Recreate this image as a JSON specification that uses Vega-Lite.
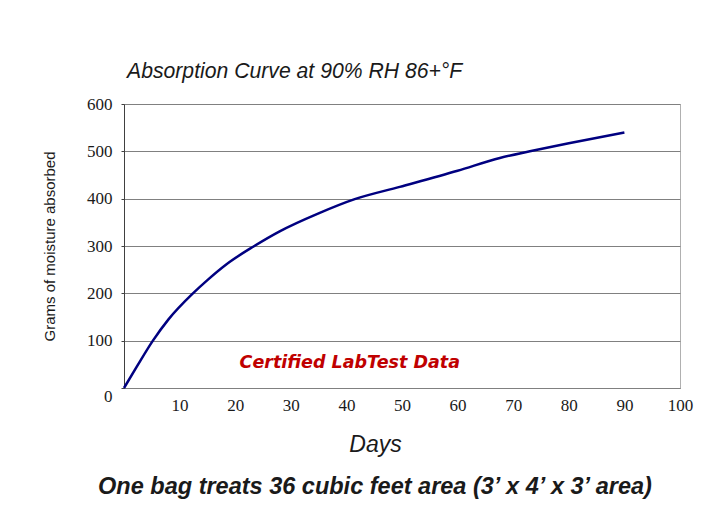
{
  "$schema": "https://vega.github.io/schema/vega-lite/v6.json",
  "width": 556,
  "height": 284,
  "autosize": {"type": "none"},
  "padding": {"left": 124, "top": 104, "right": 40, "bottom": 129},
  "background": "white",
  "title": {
    "text": "Absorption Curve at 90% RH 86+°F",
    "anchor": "start",
    "frame": "group",
    "font": "Liberation Sans",
    "fontSize": 21.2,
    "fontStyle": "italic",
    "fontWeight": "normal",
    "color": "#1a1a1a",
    "offset": 13,
    "dx": 3
  },
  "config": {
    "view": {"stroke": "#b0b0b0", "strokeWidth": 1}
  },
  "encoding": {
    "y": {
      "field": "grams",
      "type": "quantitative",
      "scale": {"domain": [0, 600], "nice": false},
      "axis": {
        "title": "Grams of moisture absorbed",
        "values": [0, 100, 200, 300, 400, 500, 600],
        "grid": true,
        "gridColor": "#808080",
        "gridWidth": 1,
        "domainColor": "#404040",
        "tickColor": "#404040",
        "tickSize": 3,
        "labelFont": "Liberation Serif",
        "labelFontSize": 17,
        "labelColor": "#1a1a1a",
        "labelPadding": 9,
        "labelBaseline": {"condition": {"test": "datum.value == 0", "value": "top"}, "value": "middle"},
        "titleFont": "Liberation Sans",
        "titleFontSize": 15,
        "titleFontWeight": "normal",
        "titleColor": "#1a1a1a",
        "titlePadding": 29
      }
    }
  },
  "layer": [
    {
      "data": {
        "values": [
          {"day": 0, "grams": 0},
          {"day": 2.3, "grams": 45},
          {"day": 5.2, "grams": 100},
          {"day": 8, "grams": 145},
          {"day": 12.4, "grams": 200},
          {"day": 15, "grams": 228},
          {"day": 18.5, "grams": 262},
          {"day": 23.3, "grams": 299},
          {"day": 28, "grams": 331},
          {"day": 35, "grams": 369},
          {"day": 41.5, "grams": 399},
          {"day": 49.6, "grams": 425},
          {"day": 60, "grams": 459},
          {"day": 67.6, "grams": 486},
          {"day": 73, "grams": 500},
          {"day": 80, "grams": 517},
          {"day": 90, "grams": 540}
        ]
      },
      "mark": {"type": "line", "color": "#000080", "strokeWidth": 2.5, "interpolate": "monotone"},
      "encoding": {
        "x": {
          "field": "day",
          "type": "quantitative",
          "scale": {"domain": [0, 100], "nice": false},
          "axis": {
            "orient": "bottom",
            "title": "Days",
            "values": [10, 20, 30, 40, 50, 60, 70, 80, 90, 100],
            "grid": false,
            "ticks": false,
            "domainColor": "#808080",
            "labelFont": "Liberation Serif",
            "labelFontSize": 17,
            "labelColor": "#1a1a1a",
            "labelPadding": 9,
            "labelFlush": false,
            "titleFont": "Liberation Sans",
            "titleFontSize": 23,
            "titleFontStyle": "italic",
            "titleFontWeight": "normal",
            "titleColor": "#1a1a1a",
            "titlePadding": 20,
            "titleX": 251,
            "titleAlign": "center"
          }
        }
      }
    },
    {
      "data": {"values": [{"day": 40.6, "grams": 53, "label": "Certified LabTest Data"}]},
      "mark": {
        "type": "text",
        "font": "DejaVu Sans",
        "fontSize": 17.5,
        "fontWeight": "bold",
        "fontStyle": "italic",
        "color": "#c00000"
      },
      "encoding": {
        "x": {
          "field": "day",
          "type": "quantitative",
          "scale": {"domain": [0, 100], "nice": false},
          "axis": {
            "orient": "bottom",
            "title": "One bag treats 36 cubic feet area (3’ x 4’ x 3’ area)",
            "labels": false,
            "ticks": false,
            "domain": false,
            "grid": false,
            "offset": 80,
            "titleFont": "Liberation Sans",
            "titleFontSize": 23.5,
            "titleFontStyle": "italic",
            "titleFontWeight": "bold",
            "titleColor": "#1a1a1a",
            "titlePadding": 6,
            "titleX": 250.5,
            "titleAlign": "center"
          }
        },
        "text": {"field": "label"}
      }
    }
  ],
  "resolve": {"axis": {"x": "independent"}}
}
